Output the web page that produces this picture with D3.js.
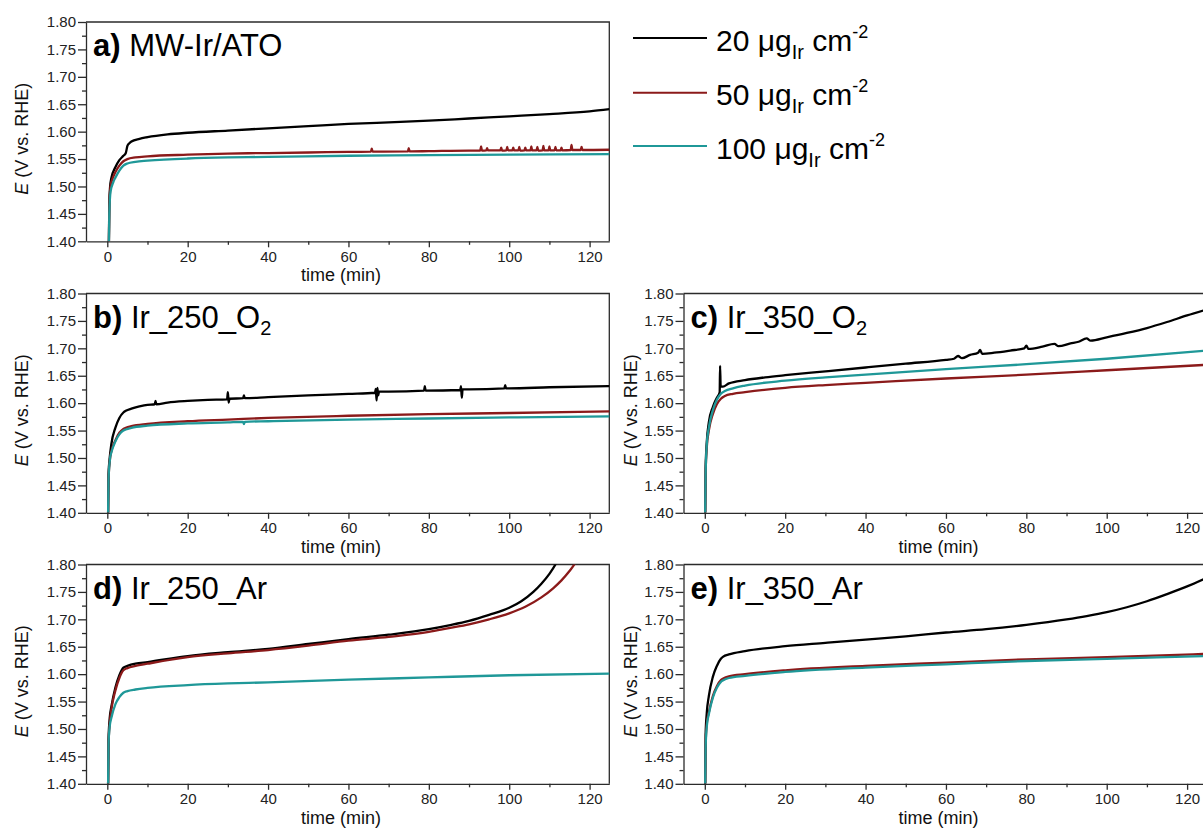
<!DOCTYPE html>
<html>
<head>
<meta charset="utf-8">
<script src="https://cdn.jsdelivr.net/npm/d3@7"></script>
<style>
  body { margin: 0; background: #fff; }
  svg, svg text { font-family: 'Liberation Sans', Arial, sans-serif; }
</style>
</head>
<body>
<div id="chart"></div>
<script>
/* values: [time (min), E (V vs. RHE)] */
const loadings = ['20', '50', '100'];
const colors = ['#000000', '#8b1a1a', '#1f9898'];

const xTicks = [0, 20, 40, 60, 80, 100, 120];
const xMinor = [10, 30, 50, 70, 90, 110];
const yTicks = [1.40, 1.45, 1.50, 1.55, 1.60, 1.65, 1.70, 1.75, 1.80];
const yMinor = [1.425, 1.475, 1.525, 1.575, 1.625, 1.675, 1.725, 1.775];

// a) MW-Ir/ATO
const a20 = [[0.4,1.40],[0.5,1.47],[0.7,1.50],[1,1.515],[2,1.535],[3,1.548],[4,1.556],[4.6,1.561],[5,1.574],[5.5,1.579],[6,1.582],[8,1.587],[10,1.590],[15,1.595],[20,1.598],[30,1.602],[40,1.606],[50,1.610],[60,1.614],[70,1.617],[80,1.620],[90,1.624],[100,1.628],[110,1.632],[120,1.637],[125,1.641]];
const a50 = [[0.4,1.40],[0.5,1.46],[0.8,1.50],[1.5,1.518],[2,1.526],[3,1.538],[4,1.546],[5,1.550],[7,1.553],[10,1.555],[20,1.558],[30,1.560],[40,1.561],[50,1.562],[60,1.563],
  [65.6,1.5635],[65.8,1.569],[66,1.5635],[74.8,1.564],[75,1.570],[75.2,1.564],[80,1.5645],[90,1.5655],
  [92.8,1.5655],[93,1.573],[93.2,1.5655],[94.3,1.566],[94.5,1.570],[94.7,1.566],
  [97.8,1.566],[98,1.571],[98.2,1.5655],[99.3,1.566],[99.5,1.572],[99.7,1.566],[100.8,1.566],[101,1.571],[101.2,1.566],
  [102.3,1.566],[102.5,1.572],[102.7,1.5655],[103.8,1.566],[104,1.571],[104.2,1.566],[105.3,1.566],[105.5,1.573],[105.7,1.566],
  [106.8,1.566],[107,1.572],[107.2,1.5655],[108.3,1.566],[108.5,1.574],[108.7,1.566],[109.8,1.566],[110,1.573],[110.2,1.566],
  [111.3,1.566],[111.5,1.572],[111.7,1.566],[112.8,1.566],[113,1.571],[113.2,1.566],[115.3,1.5665],[115.5,1.576],[115.7,1.5665],
  [117.8,1.5665],[118,1.572],[118.2,1.5665],[125,1.567]];
const a100 = [[0.4,1.40],[0.5,1.45],[0.8,1.49],[1.5,1.508],[2,1.516],[3,1.529],[4,1.538],[5,1.542],[7,1.545],[10,1.547],[20,1.551],[30,1.553],[40,1.554],[60,1.556],[80,1.557],[100,1.558],[125,1.559]];

// b) Ir_250_O2
const b20 = [[0.2,1.40],[0.3,1.47],[0.6,1.50],[1,1.525],[2,1.555],[3,1.573],[4,1.583],[4.6,1.586],[6,1.590],[8,1.594],[10,1.597],[11.8,1.598],[12,1.604],[12.2,1.598],[15,1.601],[20,1.604],[25,1.606],
  [29.8,1.607],[30,1.620],[30.2,1.601],[30.4,1.608],[33.8,1.609],[34,1.614],[34.2,1.609],[40,1.611],[50,1.614],[60,1.617],
  [66.6,1.619],[66.8,1.626],[67,1.605],[67.2,1.628],[67.4,1.614],[67.6,1.621],[70,1.621],[78.8,1.623],[79,1.631],[79.2,1.623],
  [87.8,1.624],[88,1.631],[88.2,1.610],[88.4,1.625],[90,1.625],[98.8,1.627],[99,1.633],[99.2,1.627],[100,1.627],[110,1.629],[125,1.631]];
const b50 = [[0.2,1.40],[0.3,1.46],[0.7,1.50],[1,1.512],[2,1.532],[3,1.546],[4,1.553],[4.6,1.555],[6,1.558],[10,1.562],[20,1.567],[30,1.570],[40,1.573],[60,1.577],[80,1.580],[100,1.582],[125,1.585]];
const b100 = [[0.2,1.40],[0.3,1.46],[0.7,1.50],[1,1.510],[2,1.530],[3,1.543],[4,1.550],[4.6,1.552],[6,1.555],[10,1.559],[20,1.563],[30,1.565],[33.8,1.566],[34,1.562],[34.2,1.566],[40,1.567],[60,1.570],[80,1.572],[100,1.574],[125,1.576]];

// c) Ir_350_O2
const c20 = [[0.1,1.40],[0.2,1.48],[0.5,1.53],[1,1.565],[2,1.593],[3,1.610],[3.7,1.620],[3.8,1.668],[3.95,1.630],[4.5,1.630],[6,1.636],[10,1.642],[15,1.647],[20,1.651],[30,1.658],[40,1.665],[50,1.672],[60,1.679],
  [62,1.681],[63,1.686],[64,1.682],[66,1.688],[68,1.692],[68.5,1.697],[69,1.690],[72,1.692],[76,1.696],[79.5,1.700],[80,1.705],[80.5,1.699],
  [84,1.703],[87,1.708],[88,1.704],[91,1.709],[93,1.712],[95,1.718],[96,1.714],[100,1.720],[105,1.728],[110,1.737],[115,1.748],[120,1.760],[125,1.771]];
const c50 = [[0.1,1.40],[0.2,1.47],[0.5,1.52],[1,1.550],[2,1.580],[3,1.598],[4,1.608],[5,1.613],[7,1.617],[10,1.620],[20,1.628],[30,1.633],[40,1.637],[60,1.645],[80,1.652],[100,1.660],[125,1.670]];
const c100 = [[0.1,1.40],[0.2,1.47],[0.5,1.525],[1,1.555],[2,1.587],[3,1.606],[4,1.617],[5,1.622],[7,1.627],[10,1.632],[20,1.641],[30,1.647],[40,1.652],[60,1.662],[80,1.671],[100,1.681],[125,1.696]];

// d) Ir_250_Ar
const d20 = [[0.2,1.40],[0.3,1.48],[0.6,1.52],[1,1.54],[2,1.575],[3,1.598],[4,1.612],[5,1.615],[7,1.619],[10,1.622],[20,1.633],[30,1.640],[40,1.646],[50,1.655],[60,1.664],[70,1.672],[80,1.682],[85,1.689],[90,1.697],[95,1.708],[100,1.721],[103,1.733],[106,1.750],[108,1.765],[110,1.783],[111.5,1.80],[112.2,1.81]];
const d50 = [[0.2,1.40],[0.3,1.47],[0.6,1.51],[1,1.535],[2,1.57],[3,1.593],[4,1.607],[5,1.611],[7,1.615],[10,1.619],[20,1.631],[30,1.638],[40,1.644],[50,1.652],[60,1.661],[70,1.668],[80,1.677],[85,1.684],[90,1.691],[95,1.700],[100,1.711],[104,1.723],[108,1.740],[111,1.757],[113,1.771],[115,1.788],[116.2,1.80],[117,1.81]];
const d100 = [[0.2,1.40],[0.3,1.47],[0.6,1.505],[1,1.52],[2,1.545],[3,1.558],[4,1.566],[5,1.569],[7,1.572],[10,1.575],[20,1.580],[30,1.583],[40,1.585],[60,1.590],[80,1.594],[100,1.598],[125,1.601]];

// e) Ir_350_Ar
const e20 = [[0.1,1.40],[0.2,1.49],[0.5,1.53],[1,1.56],[2,1.595],[3,1.615],[4,1.628],[4.6,1.632],[6,1.636],[10,1.642],[20,1.651],[30,1.657],[40,1.663],[50,1.669],[60,1.676],[70,1.682],[80,1.690],[90,1.700],[95,1.706],[100,1.713],[105,1.722],[110,1.733],[115,1.746],[120,1.760],[125,1.776]];
const e50 = [[0.1,1.40],[0.2,1.47],[0.5,1.51],[1,1.53],[2,1.56],[3,1.578],[4,1.589],[4.6,1.592],[6,1.596],[10,1.600],[20,1.607],[40,1.615],[60,1.621],[80,1.627],[100,1.631],[125,1.637]];
const e100 = [[0.1,1.40],[0.2,1.465],[0.5,1.505],[1,1.527],[2,1.557],[3,1.575],[4,1.586],[4.6,1.589],[6,1.593],[10,1.597],[20,1.604],[40,1.612],[60,1.618],[80,1.624],[100,1.628],[125,1.633]];

const panels = [
  { letter: 'a)', name: 'MW-Ir/ATO', sub: '', col: 0, row: 0, series: [a20, a50, a100] },
  { letter: 'b)', name: 'Ir_250_O', sub: '2', col: 0, row: 1, series: [b20, b50, b100] },
  { letter: 'c)', name: 'Ir_350_O', sub: '2', col: 1, row: 1, series: [c20, c50, c100] },
  { letter: 'd)', name: 'Ir_250_Ar', sub: '', col: 0, row: 2, series: [d20, d50, d100] },
  { letter: 'e)', name: 'Ir_350_Ar', sub: '', col: 1, row: 2, series: [e20, e50, e100] }
];

const width = 1203;
const height = 832;
const colLeft = [86, 683.5];
const titleOffset = [63, 52];
const rowTop = [22, 293.5, 564.5];
const plotW = 523.3;
const plotH = 219.3;
const axisColor = '#2b2b2b';

const svg = d3.select('#chart')
  .append('svg')
  .attr('width', width)
  .attr('height', height);

function drawPanel(p, idx) {
  const left = colLeft[p.col];
  const top = rowTop[p.row];

  const x = d3.scaleLinear().domain([-5.3, 124.9]).range([0, plotW]);
  const y = d3.scaleLinear().domain([1.40, 1.80]).range([plotH, 0]);

  const g = svg.append('g').attr('transform', `translate(${left},${top})`);

  g.append('clipPath')
    .attr('id', 'clip' + idx)
    .append('rect')
    .attr('width', plotW)
    .attr('height', plotH);

  // frame: top and right sides
  g.append('path')
    .attr('d', `M0,0H${plotW}V${plotH}`)
    .attr('fill', 'none')
    .attr('stroke', axisColor)
    .attr('stroke-width', 1.3);

  const line = d3.line()
    .x((d) => x(d[0]))
    .y((d) => y(d[1]))
    .curve(d3.curveMonotoneX);

  g.append('g')
    .attr('clip-path', `url(#clip${idx})`)
    .selectAll('path')
    .data(p.series)
    .join('path')
    .attr('d', line)
    .attr('fill', 'none')
    .attr('stroke', (d, i) => colors[i])
    .attr('stroke-width', 2.3)
    .attr('stroke-linejoin', 'round');

  // axes
  const xAxis = g.append('g')
    .attr('transform', `translate(0,${plotH})`)
    .call(d3.axisBottom(x).tickValues(xTicks).tickSize(6).tickSizeOuter(0).tickPadding(4));
  g.append('g')
    .attr('transform', `translate(0,${plotH})`)
    .call(d3.axisBottom(x).tickValues(xMinor).tickSize(3.5).tickFormat(''))
    .call((s) => s.select('.domain').remove());

  const yAxis = g.append('g')
    .call(d3.axisLeft(y).tickValues(yTicks).tickSize(8).tickSizeOuter(0).tickPadding(2).tickFormat(d3.format('.2f')));
  g.append('g')
    .call(d3.axisLeft(y).tickValues(yMinor).tickSize(4).tickFormat(''))
    .call((s) => s.select('.domain').remove());

  g.selectAll('g').attr('font-family', null).attr('font-size', null);
  g.selectAll('.domain, .tick line')
    .attr('stroke', axisColor)
    .attr('stroke-width', 1.3);
  xAxis.selectAll('text').attr('font-size', 15).attr('fill', '#222');
  yAxis.selectAll('text').attr('font-size', 15).attr('fill', '#222');

  // axis titles
  g.append('text')
    .attr('x', 255)
    .attr('y', plotH + 40)
    .attr('text-anchor', 'middle')
    .attr('font-size', 18)
    .attr('fill', '#111')
    .text('time (min)');

  const yt = g.append('text')
    .attr('transform', `translate(${-titleOffset[p.col]},${plotH / 2 + 7}) rotate(-90)`)
    .attr('text-anchor', 'middle')
    .attr('dominant-baseline', 'middle')
    .attr('font-size', 18)
    .attr('fill', '#111');
  yt.append('tspan').attr('font-style', 'italic').text('E');
  yt.append('tspan').text(' (V vs. RHE)');

  // panel label
  const lab = g.append('text')
    .attr('x', 7)
    .attr('y', 34)
    .attr('font-size', 31)
    .attr('fill', '#000');
  lab.append('tspan').attr('font-weight', 'bold').text(p.letter);
  lab.append('tspan').text(' ' + p.name);
  if (p.sub) {
    lab.append('tspan').attr('font-size', 20).attr('dy', 7).text(p.sub);
  }
}

panels.forEach((p, i) => drawPanel(p, i));

// legend
const legend = svg.append('g');
const legendY = [38, 92.7, 146];
loadings.forEach((l, i) => {
  legend.append('line')
    .attr('x1', 633)
    .attr('x2', 707)
    .attr('y1', legendY[i])
    .attr('y2', legendY[i])
    .attr('stroke', colors[i])
    .attr('stroke-width', 2);
  const t = legend.append('text')
    .attr('x', 716)
    .attr('y', legendY[i] + 12.5)
    .attr('font-size', 30)
    .attr('fill', '#000');
  t.append('tspan').text(l + ' \u03bcg');
  t.append('tspan').attr('font-size', 20).attr('dy', 8).text('Ir');
  t.append('tspan').attr('dy', -8).text(' cm');
  t.append('tspan').attr('font-size', 18).attr('dy', -13).text('-2');
});
</script>
</body>
</html>
